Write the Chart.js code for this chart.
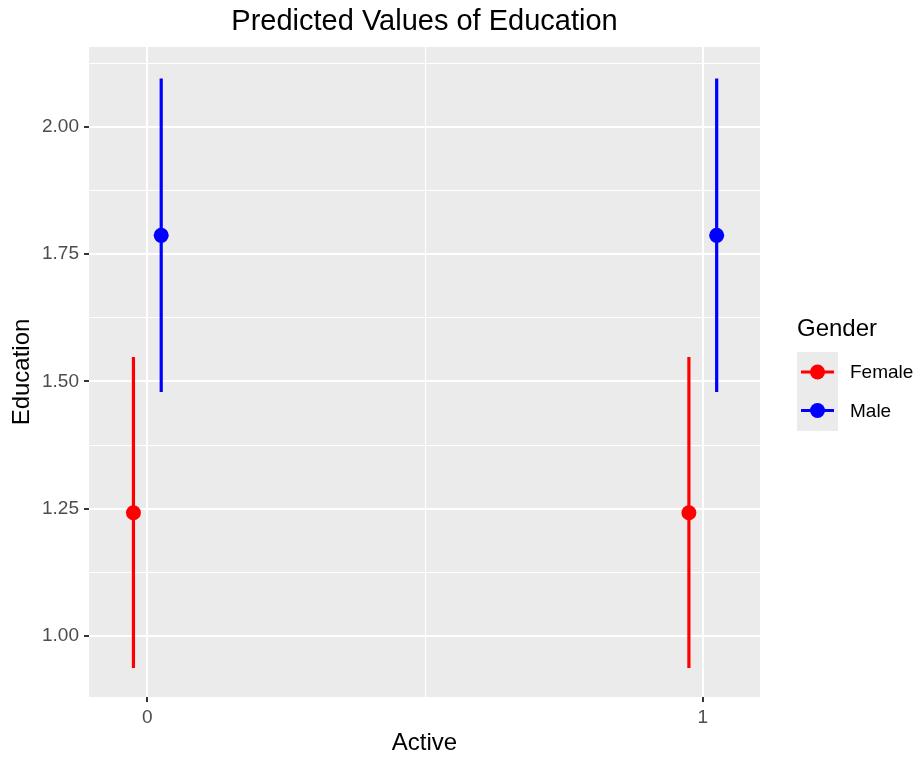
<!DOCTYPE html>
<html lang="en">
<head>
<meta charset="UTF-8">
<title>Predicted Values of Education</title>
<script src="https://cdn.jsdelivr.net/npm/chart.js"></script>
<style>
    body { margin: 0; background: #fff; }
    #wrap { width: 919px; height: 758px; }
</style>
</head>
<body>
<div id="wrap"><canvas id="chart" width="919" height="758"></canvas></div>
<script>
// data
const activeLevels = [0, 1];
const genders = ['Female', 'Male'];
const genderColors = ['#ff0000', '#0000ff'];
const femaleFit = [1.242, 1.242];
const femaleLow = [0.937, 0.937];
const femaleHigh = [1.548, 1.548];
const maleFit = [1.787, 1.787];
const maleLow = [1.479, 1.479];
const maleHigh = [2.095, 2.095];
const yMajorTicks = [1.00, 1.25, 1.50, 1.75, 2.00];
const yMinorTicks = [1.125, 1.375, 1.625, 1.875, 2.125];
const xMajorTicks = [0, 1];
const xMinorTicks = [0.5];

const FONT = '"Liberation Sans", Arial, sans-serif';
const dodge = 0.025;
const series = [
    { fit: femaleFit, low: femaleLow, high: femaleHigh, off: -dodge },
    { fit: maleFit, low: maleLow, high: maleHigh, off: dodge }
];

function tickList(major, minor) {
    return major.concat(minor).sort((a, b) => a - b).map(v => ({ value: v, major: major.includes(v) }));
}

// error bars under the points
const errorBars = {
    id: 'errorBars',
    beforeDatasetsDraw(chart) {
        const { ctx, scales: { x, y } } = chart;
        ctx.save();
        ctx.lineWidth = 3.2;
        series.forEach((s, i) => {
            ctx.strokeStyle = genderColors[i];
            activeLevels.forEach((a, j) => {
                const px = x.getPixelForValue(a + s.off);
                ctx.beginPath();
                ctx.moveTo(px, y.getPixelForValue(s.low[j]));
                ctx.lineTo(px, y.getPixelForValue(s.high[j]));
                ctx.stroke();
            });
        });
        ctx.restore();
    }
};

// panel background
const panelBg = {
    id: 'panelBg',
    beforeDraw(chart) {
        const { ctx, chartArea: a } = chart;
        ctx.save();
        ctx.fillStyle = '#ebebeb';
        ctx.fillRect(a.left, a.top, a.right - a.left, a.bottom - a.top);
        ctx.restore();
    }
};

// title + ggplot style legend
const extras = {
    id: 'extras',
    afterDraw(chart) {
        const { ctx, chartArea: a } = chart;
        ctx.save();
        ctx.fillStyle = '#000';
        ctx.font = '29px ' + FONT;
        ctx.textAlign = 'center';
        ctx.textBaseline = 'middle';
        ctx.fillText('Predicted Values of Education', (a.left + a.right) / 2, 22);

        ctx.textAlign = 'left';
        ctx.font = '24px ' + FONT;
        ctx.fillText('Gender', 797, 329);
        ctx.fillStyle = '#ebebeb';
        ctx.fillRect(797, 352, 41, 79);
        genders.forEach((g, i) => {
            const cy = 372 + i * 38.5;
            ctx.strokeStyle = genderColors[i];
            ctx.lineWidth = 3.2;
            ctx.beginPath();
            ctx.moveTo(801, cy);
            ctx.lineTo(834, cy);
            ctx.stroke();
            ctx.fillStyle = genderColors[i];
            ctx.beginPath();
            ctx.arc(817.5, cy, 7.5, 0, Math.PI * 2);
            ctx.fill();
            ctx.fillStyle = '#000';
            ctx.font = '19px ' + FONT;
            ctx.fillText(g, 850, cy + 1);
        });
        ctx.restore();
    }
};

const gridStyle = {
    color: '#ffffff',
    lineWidth: c => (c.tick && c.tick.major ? 2 : 1),
    tickColor: c => (c.tick && c.tick.major ? '#333333' : 'rgba(0,0,0,0)'),
    tickLength: 5,
    tickWidth: 2,
    drawTicks: true
};

new Chart(document.getElementById('chart'), {
    type: 'scatter',
    data: {
        datasets: series.map((s, i) => ({
            label: genders[i],
            data: activeLevels.map((a, j) => ({ x: a + s.off, y: s.fit[j] })),
            backgroundColor: genderColors[i],
            borderColor: genderColors[i],
            pointRadius: 7.5,
            pointHoverRadius: 7.5,
            borderWidth: 0
        }))
    },
    options: {
        responsive: false,
        animation: false,
        layout: { padding: { top: 47, right: 159, left: 0, bottom: 0 } },
        plugins: { legend: { display: false }, tooltip: { enabled: false } },
        scales: {
            x: {
                type: 'linear',
                min: -0.105,
                max: 1.103,
                afterBuildTicks: s => { s.ticks = tickList(xMajorTicks, xMinorTicks); },
                afterFit: s => { s.height = 61; },
                border: { display: false },
                grid: gridStyle,
                ticks: {
                    autoSkip: false,
                    maxRotation: 0,
                    padding: 4,
                    color: '#4d4d4d',
                    font: { size: 19, family: FONT },
                    callback: v => (xMajorTicks.includes(v) ? String(v) : '')
                },
                title: {
                    display: true,
                    text: 'Active',
                    color: '#000',
                    font: { size: 24, family: FONT },
                    padding: { top: 0, bottom: 0 }
                }
            },
            y: {
                min: 0.88,
                max: 2.157,
                afterBuildTicks: s => { s.ticks = tickList(yMajorTicks, yMinorTicks); },
                afterFit: s => { s.width = 89; },
                border: { display: false },
                grid: gridStyle,
                ticks: {
                    autoSkip: false,
                    padding: 5,
                    color: '#4d4d4d',
                    font: { size: 19, family: FONT },
                    callback: v => (yMajorTicks.includes(v) ? v.toFixed(2) : '')
                },
                title: {
                    display: true,
                    text: 'Education',
                    color: '#000',
                    font: { size: 24, family: FONT },
                    padding: { top: 8 }
                }
            }
        }
    },
    plugins: [panelBg, errorBars, extras]
});
</script>
</body>
</html>
